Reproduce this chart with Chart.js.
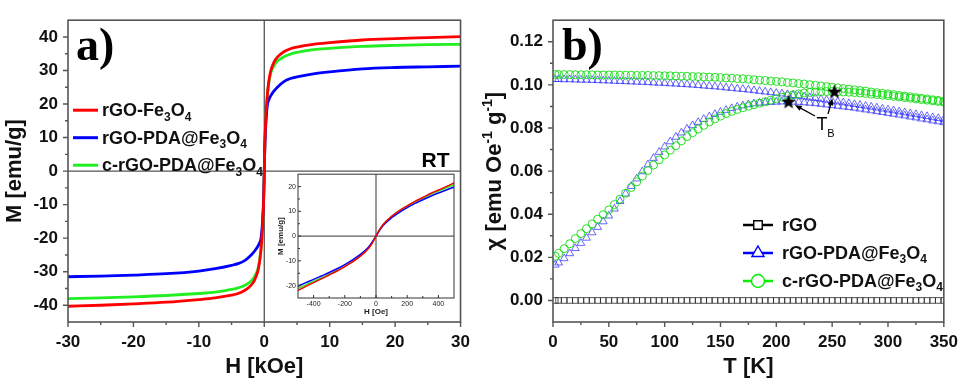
<!DOCTYPE html>
<html>
<head>
<meta charset="utf-8">
<script src="https://cdn.jsdelivr.net/npm/chart.js@4.4.1/dist/chart.umd.min.js"></script>
<style>
  html, body { margin: 0; padding: 0; background: #fff; }
  #page { position: relative; width: 968px; height: 385px; overflow: hidden; }
  .box { position: absolute; }
</style>
</head>
<body>
<div id="page">
  <div class="box" style="left:0;top:0;width:480px;height:385px"><canvas id="chartA"></canvas></div>
  <div class="box" style="left:480px;top:0;width:488px;height:385px"><canvas id="chartB"></canvas></div>
  <div class="box" style="left:268px;top:168px;width:190px;height:150px"><canvas id="chartInset"></canvas></div>
</div>
<script>
// ---------------- data : panel a) M(H) at room temperature ----------------
var sampleNames = ['rGO-Fe3O4', 'rGO-PDA@Fe3O4', 'c-rGO-PDA@Fe3O4'];

var fieldKOe = [-30, -25, -20, -15, -10, -7.5, -5, -4, -3, -2, -1.5, -1, -0.75, -0.5, -0.25, -0.1,
  0, 0.1, 0.25, 0.5, 0.75, 1, 1.5, 2, 3, 4, 5, 7.5, 10, 15, 20, 25, 30];
var magRed = [-40.3, -40.0, -39.6, -39.1, -38.3, -37.8, -37.0, -36.5, -35.6, -34.0, -32.6, -30.0, -27.5, -23.5, -16.0, -9.0,
  0, 9.0, 16.0, 23.5, 27.5, 30.0, 32.6, 34.0, 35.6, 36.5, 37.0, 37.8, 38.3, 39.1, 39.5, 39.8, 40.1];
var magBlue = [-31.5, -31.3, -31.0, -30.6, -29.8, -29.1, -28.1, -27.6, -26.7, -25.0, -23.9, -22.5, -21.5, -20.0, -14.5, -8.0,
  0, 8.0, 14.5, 20.0, 21.5, 22.5, 23.9, 25.0, 26.7, 27.6, 28.1, 29.0, 29.6, 30.5, 30.9, 31.1, 31.3];
var magGreen = [-38.0, -37.8, -37.5, -37.1, -36.5, -36.1, -35.3, -34.8, -34.1, -32.8, -31.5, -29.3, -27.0, -23.0, -15.8, -9.0,
  0, 9.0, 15.8, 23.0, 27.0, 29.3, 31.5, 32.8, 34.1, 34.9, 35.4, 36.2, 36.6, 37.2, 37.5, 37.7, 37.8];

var aTicksX = [-30, -20, -10, 0, 10, 20, 30];
var aMinorX = [-25, -15, -5, 5, 15, 25];
var aTicksY = [-40, -30, -20, -10, 0, 10, 20, 30, 40];
var aMinorY = [-35, -25, -15, -5, 5, 15, 25, 35];

// inset : low field part, H in Oe
var fieldOe = [-500, -450, -400, -350, -300, -250, -200, -150, -100, -50, -25, 0, 25, 50, 100, 150, 200, 250, 300, 350, 400, 450, 500];
var lowRed = [-22.0, -20.3, -18.8, -17.3, -15.7, -14.1, -12.3, -10.4, -8.1, -5.1, -2.9, 0, 2.8, 5.0, 8.0, 10.3, 12.2, 14.0, 15.6, 17.2, 18.6, 20.0, 21.5];
var lowBlue = [-20.2, -18.8, -17.5, -16.1, -14.7, -13.2, -11.5, -9.6, -7.4, -4.6, -2.5, 0, 2.5, 4.6, 7.4, 9.6, 11.5, 13.2, 14.7, 16.1, 17.4, 18.6, 19.8];
var lowGreen = [-21.2, -19.7, -18.3, -16.9, -15.4, -13.9, -12.2, -10.3, -8.0, -5.0, -2.8, 0, 2.8, 5.0, 8.0, 10.3, 12.2, 13.9, 15.4, 16.9, 18.2, 19.5, 20.8];
var inTicksX = [-400, -200, 0, 200, 400];
var inMinorX = [-300, -100, 100, 300];
var inTicksY = [-20, -10, 0, 10, 20];
var inMinorY = [-15, -5, 5, 15];

// ---------------- data : panel b) chi(T), ZFC and FC branches ----------------
var chiNames = ['rGO', 'rGO-PDA@Fe3O4', 'c-rGO-PDA@Fe3O4'];
var tempK = [2, 5, 10, 15, 20, 25, 30, 35, 40, 45, 50, 55, 60, 65, 70, 75, 80, 85, 90, 95, 100, 105, 110, 115, 120, 125, 130, 135, 140, 145,
  150, 155, 160, 165, 170, 175, 180, 185, 190, 195, 200, 205, 210, 215, 220, 225, 230, 235, 240, 245, 250, 255, 260, 265, 270, 275, 280, 285, 290, 295,
  300, 305, 310, 315, 320, 325, 330, 335, 340, 345, 350];
var rgoChi = [0, 0, 0, 0, 0, 0, 0, 0, 0, 0, 0, 0, 0, 0, 0, 0, 0, 0, 0, 0, 0, 0, 0, 0, 0, 0, 0, 0, 0, 0,
  0, 0, 0, 0, 0, 0, 0, 0, 0, 0, 0, 0, 0, 0, 0, 0, 0, 0, 0, 0, 0, 0, 0, 0, 0, 0, 0, 0, 0, 0,
  0, 0, 0, 0, 0, 0, 0, 0, 0, 0, 0];
var blueZfc = [.0165, .0175, .0195, .0218, .0242, .0266, .0290, .0315, .0340, .0366, .0393, .0425, .0460, .0495, .0530, .0565, .0598, .0630, .0660, .0688,
  .0713, .0737, .0758, .0778, .0796, .0812, .0827, .0841, .0853, .0864, .0874, .0883, .0891, .0898, .0904, .0909, .0913, .0916, .0918, .0920,
  .0921, .0922, .0922, .0921, .0920, .0918, .0916, .0914, .0911, .0908, .0905, .0902, .0899, .0896, .0893, .0889, .0885, .0881, .0877, .0873,
  .0869, .0865, .0861, .0857, .0852, .0848, .0843, .0839, .0834, .0830, .0826];
var blueFc = [.1026, .1026, .1025, .1025, .1024, .1023, .1023, .1022, .1021, .1020, .1019, .1018, .1017, .1016, .1015, .1014, .1013, .1012, .1010, .1009,
  .1008, .1006, .1005, .1003, .1002, .1000, .0998, .0996, .0994, .0992, .0990, .0987, .0985, .0982, .0980, .0977, .0974, .0971, .0968, .0965,
  .0962, .0959, .0956, .0952, .0949, .0945, .0941, .0938, .0934, .0930, .0926, .0922, .0918, .0914, .0910, .0906, .0902, .0898, .0894, .0889,
  .0885, .0881, .0876, .0872, .0867, .0863, .0858, .0854, .0849, .0845, .0840];
var greenZfc = [.0205, .0218, .0240, .0263, .0287, .0310, .0333, .0355, .0377, .0398, .0420, .0445, .0470, .0497, .0524, .0550, .0577, .0603, .0628, .0652,
  .0675, .0697, .0718, .0740, .0760, .0778, .0795, .0812, .0828, .0842, .0855, .0867, .0877, .0886, .0894, .0901, .0908, .0915, .0922, .0929,
  .0936, .0943, .0949, .0954, .0958, .0962, .0965, .0967, .0968, .0969, .0969, .0968, .0967, .0966, .0964, .0962, .0960, .0957, .0955, .0952,
  .0950, .0947, .0944, .0941, .0938, .0935, .0932, .0929, .0926, .0923, .0920];
var greenFc = [.1048, .1048, .1048, .1048, .1047, .1047, .1047, .1047, .1046, .1046, .1046, .1046, .1045, .1045, .1045, .1044, .1044, .1044, .1043, .1043,
  .1042, .1042, .1041, .1040, .1040, .1039, .1038, .1037, .1036, .1035, .1034, .1032, .1031, .1029, .1028, .1026, .1024, .1022, .1020, .1018,
  .1016, .1014, .1011, .1009, .1006, .1004, .1001, .0998, .0995, .0992, .0989, .0986, .0983, .0980, .0977, .0974, .0971, .0967, .0964, .0961,
  .0958, .0955, .0951, .0948, .0945, .0941, .0938, .0935, .0931, .0928, .0924];
// blocking temperatures (stars)
var tbTemp = [211, 252];
var tbChi = [0.0922, 0.0969];

var bTicksX = [0, 50, 100, 150, 200, 250, 300, 350];
var bMinorX = [25, 75, 125, 175, 225, 275, 325];
var bTicksY = [0, 0.02, 0.04, 0.06, 0.08, 0.10, 0.12];
var bMinorY = [0.01, 0.03, 0.05, 0.07, 0.09, 0.11];

// ---------------- helpers ----------------
var FONT = "'Liberation Sans', Arial, sans-serif";
Chart.defaults.font.family = FONT;
Chart.defaults.color = '#111';

function toPoints(xs, ys) {
  return xs.map(function (x, i) { return { x: x, y: ys[i] }; });
}

// digits -> subscript, ^-1 -> superscript
function richParts(str) {
  var parts = [], re = /\^(-?\d+)|(\d+)/g, last = 0, m;
  while ((m = re.exec(str))) {
    if (m.index > last) parts.push({ t: str.slice(last, m.index), k: 0 });
    parts.push(m[1] ? { t: m[1], k: 1 } : { t: m[2], k: -1 });
    last = re.lastIndex;
  }
  if (last < str.length) parts.push({ t: str.slice(last), k: 0 });
  return parts;
}
function drawRich(ctx, str, x, y, size, align, weight) {
  var parts = richParts(str), w = 0;
  parts.forEach(function (p) {
    p.size = p.k ? Math.round(size * 0.64) : size;
    ctx.font = weight + ' ' + p.size + 'px ' + FONT;
    p.w = ctx.measureText(p.t).width;
    w += p.w;
  });
  var cx = align === 'center' ? x - w / 2 : (align === 'right' ? x - w : x);
  ctx.textAlign = 'left';
  ctx.textBaseline = 'alphabetic';
  parts.forEach(function (p) {
    ctx.font = weight + ' ' + p.size + 'px ' + FONT;
    var dy = p.k === -1 ? size * 0.24 : (p.k === 1 ? -size * 0.42 : 0);
    ctx.fillText(p.t, cx, y + dy);
    cx += p.w;
  });
}
function drawFrame(chart, color, width) {
  var a = chart.chartArea, ctx = chart.ctx;
  ctx.save();
  ctx.strokeStyle = color;
  ctx.lineWidth = width;
  ctx.strokeRect(a.left, a.top, a.right - a.left, a.bottom - a.top);
  ctx.restore();
}
function drawTickMarks(chart, id, values, len, inward) {
  var ctx = chart.ctx, s = chart.scales[id], a = chart.chartArea;
  ctx.beginPath();
  values.forEach(function (v) {
    var p = s.getPixelForValue(v);
    if (id === 'x') {
      ctx.moveTo(p, a.bottom);
      ctx.lineTo(p, inward ? a.bottom - len : a.bottom + len);
    } else {
      ctx.moveTo(a.left, p);
      ctx.lineTo(inward ? a.left + len : a.left - len, p);
    }
  });
  ctx.stroke();
}
function drawZeroLines(chart, color, width) {
  var ctx = chart.ctx, a = chart.chartArea;
  var x0 = chart.scales.x.getPixelForValue(0), y0 = chart.scales.y.getPixelForValue(0);
  ctx.save();
  ctx.strokeStyle = color;
  ctx.lineWidth = width;
  ctx.beginPath();
  ctx.moveTo(a.left, y0); ctx.lineTo(a.right, y0);
  ctx.moveTo(x0, a.top); ctx.lineTo(x0, a.bottom);
  ctx.stroke();
  ctx.restore();
}
function arrow(ctx, x1, y1, x2, y2) {
  var ang = Math.atan2(y2 - y1, x2 - x1);
  ctx.beginPath();
  ctx.moveTo(x1, y1);
  ctx.lineTo(x2 - 4 * Math.cos(ang), y2 - 4 * Math.sin(ang));
  ctx.stroke();
  ctx.beginPath();
  ctx.moveTo(x2, y2);
  ctx.lineTo(x2 - 7 * Math.cos(ang) + 2.8 * Math.sin(ang), y2 - 7 * Math.sin(ang) - 2.8 * Math.cos(ang));
  ctx.lineTo(x2 - 7 * Math.cos(ang) - 2.8 * Math.sin(ang), y2 - 7 * Math.sin(ang) + 2.8 * Math.cos(ang));
  ctx.closePath();
  ctx.fill();
}

// filled black star used as point style for T_B
var starImg = document.createElement('canvas');
starImg.width = 16; starImg.height = 16;
(function () {
  var c = starImg.getContext('2d');
  c.beginPath();
  for (var i = 0; i < 10; i++) {
    var r = i % 2 ? 3.2 : 7.6, ang = -Math.PI / 2 + i * Math.PI / 5;
    c.lineTo(8 + r * Math.cos(ang), 8.5 + r * Math.sin(ang));
  }
  c.closePath();
  c.fillStyle = '#000';
  c.fill();
})();

var tickFont = { size: 17, weight: 'bold' };
var titleFont = { size: 22, weight: 'bold' };

// ------------------ panel a) ------------------
var aColors = ['#ff0000', '#0000ff', '#22ee22'];
var aSeries = [magRed, magBlue, magGreen];

var panelAPlugin = {
  id: 'panelA',
  beforeDatasetsDraw: function (chart) {
    drawZeroLines(chart, '#555', 1.3);
  },
  afterDatasetsDraw: function (chart) {
    var ctx = chart.ctx, a = chart.chartArea;
    drawFrame(chart, '#555', 1.6);
    ctx.save();
    ctx.strokeStyle = '#555';
    ctx.lineWidth = 1.4;
    drawTickMarks(chart, 'x', aTicksX, 5, false);
    drawTickMarks(chart, 'y', aTicksY, 5, false);
    drawTickMarks(chart, 'x', aMinorX, 3, false);
    drawTickMarks(chart, 'y', aMinorY, 3, false);

    // legend inside the plot
    chart.data.datasets.forEach(function (ds, i) {
      var y = a.top + 90 + i * 27.5;
      ctx.strokeStyle = ds.borderColor;
      ctx.lineWidth = 3;
      ctx.beginPath();
      ctx.moveTo(a.left + 5, y);
      ctx.lineTo(a.left + 30, y);
      ctx.stroke();
      ctx.fillStyle = '#111';
      drawRich(ctx, ds.label, a.left + 34, y + 6, 18, 'left', 'bold');
    });

    ctx.fillStyle = '#000';
    ctx.font = "bold 46px 'Liberation Serif', 'Times New Roman', serif";
    ctx.textAlign = 'left';
    ctx.textBaseline = 'alphabetic';
    ctx.fillText('a)', a.left + 8, a.top + 40);

    ctx.font = 'bold 21px ' + FONT;
    ctx.textAlign = 'right';
    ctx.fillText('RT', a.right - 11, a.top + 147);
    ctx.restore();
  }
};

new Chart(document.getElementById('chartA'), {
  type: 'scatter',
  data: {
    datasets: sampleNames.map(function (name, i) {
      return {
        label: name,
        data: toPoints(fieldKOe, aSeries[i]),
        showLine: true,
        borderColor: aColors[i],
        backgroundColor: aColors[i],
        borderWidth: 2.8,
        pointRadius: 0,
        cubicInterpolationMode: 'monotone'
      };
    })
  },
  options: {
    responsive: true,
    maintainAspectRatio: false,
    animation: false,
    layout: { padding: { top: 5, right: 17, left: 0, bottom: 0 } },
    plugins: { legend: { display: false }, tooltip: { enabled: false } },
    scales: {
      x: {
        type: 'linear', min: -30, max: 30,
        afterBuildTicks: function (s) { s.ticks = aTicksX.map(function (v) { return { value: v }; }); },
        afterFit: function (s) { s.height = 63; },
        grid: { display: false, drawTicks: false },
        border: { display: false },
        ticks: { padding: 10, font: tickFont, color: '#111', maxRotation: 0, autoSkip: false },
        title: { display: true, text: 'H [kOe]', font: titleFont, color: '#111', padding: { top: 0, bottom: 5 } }
      },
      y: {
        type: 'linear', min: -45, max: 45,
        afterBuildTicks: function (s) { s.ticks = aTicksY.map(function (v) { return { value: v }; }); },
        afterFit: function (s) { s.width = 68; },
        grid: { display: false, drawTicks: false },
        border: { display: false },
        ticks: { padding: 10, font: tickFont, color: '#111', autoSkip: false,
          callback: function (v) { return String(v); } },
        title: { display: true, text: 'M [emu/g]', font: titleFont, color: '#111', padding: { top: 2, bottom: 0 } }
      }
    }
  },
  plugins: [panelAPlugin]
});

// ------------------ inset ------------------
var insetSeries = [lowRed, lowBlue, lowGreen];
var insetPlugin = {
  id: 'inset',
  beforeDatasetsDraw: function (chart) {
    drawZeroLines(chart, '#333', 1);
  },
  afterDatasetsDraw: function (chart) {
    var ctx = chart.ctx;
    drawFrame(chart, '#333', 1);
    ctx.save();
    ctx.strokeStyle = '#333';
    ctx.lineWidth = 1;
    drawTickMarks(chart, 'x', inTicksX, 3, true);
    drawTickMarks(chart, 'y', inTicksY, 3, true);
    drawTickMarks(chart, 'x', inMinorX, 2, true);
    drawTickMarks(chart, 'y', inMinorY, 2, true);
    ctx.restore();
  }
};

new Chart(document.getElementById('chartInset'), {
  type: 'scatter',
  data: {
    datasets: sampleNames.map(function (name, i) {
      return {
        label: name,
        data: toPoints(fieldOe, insetSeries[i]),
        showLine: true,
        borderColor: aColors[i],
        borderWidth: 1.5,
        pointRadius: 0,
        cubicInterpolationMode: 'monotone'
      };
    })
  },
  options: {
    responsive: true,
    maintainAspectRatio: false,
    animation: false,
    layout: { padding: { top: 5, right: 4, left: 0, bottom: 0 } },
    plugins: { legend: { display: false }, tooltip: { enabled: false } },
    scales: {
      x: {
        type: 'linear', min: -500, max: 500,
        afterBuildTicks: function (s) { s.ticks = inTicksX.map(function (v) { return { value: v }; }); },
        afterFit: function (s) { s.height = 20; },
        grid: { display: false, drawTicks: false },
        border: { display: false },
        ticks: { padding: 2, font: { size: 7 }, color: '#222', maxRotation: 0, autoSkip: false },
        title: { display: true, text: 'H [Oe]', font: { size: 8, weight: 'bold' }, color: '#222', padding: { top: 0, bottom: 1 } }
      },
      y: {
        type: 'linear', min: -25, max: 25,
        afterBuildTicks: function (s) { s.ticks = inTicksY.map(function (v) { return { value: v }; }); },
        afterFit: function (s) { s.width = 30; },
        grid: { display: false, drawTicks: false },
        border: { display: false },
        ticks: { padding: 2, font: { size: 7 }, color: '#222', autoSkip: false,
          callback: function (v) { return String(v); } },
        title: { display: true, text: 'M [emu/g]', font: { size: 8, weight: 'bold' }, color: '#222', padding: { top: 8, bottom: 0 } }
      }
    }
  },
  plugins: [insetPlugin]
});

// ------------------ panel b) ------------------
var bLegendStyle = [
  { color: '#000', style: 'rect', radius: 6 },
  { color: '#0000ff', style: 'triangle', radius: 7 },
  { color: '#00ee00', style: 'circle', radius: 6.5 }
];

var panelBPlugin = {
  id: 'panelB',
  afterDatasetsDraw: function (chart) {
    var ctx = chart.ctx, a = chart.chartArea;
    drawFrame(chart, '#555', 1.6);
    ctx.save();
    ctx.strokeStyle = '#555';
    ctx.lineWidth = 1.4;
    drawTickMarks(chart, 'x', bTicksX, 5, false);
    drawTickMarks(chart, 'y', bTicksY, 5, false);
    drawTickMarks(chart, 'x', bMinorX, 3, false);
    drawTickMarks(chart, 'y', bMinorY, 3, false);

    // legend
    chiNames.forEach(function (name, i) {
      var y = 225 + i * 28, st = bLegendStyle[i];
      ctx.strokeStyle = st.color;
      ctx.lineWidth = 2.5;
      ctx.beginPath();
      ctx.moveTo(a.left + 190, y);
      ctx.lineTo(a.left + 220, y);
      ctx.stroke();
      ctx.fillStyle = '#fff';
      ctx.lineWidth = 1.4;
      Chart.helpers.drawPoint(ctx, { pointStyle: st.style, radius: st.radius, borderWidth: 1.4, rotation: 0 }, a.left + 205, y);
      ctx.fillStyle = '#111';
      drawRich(ctx, name, a.left + 229, y + 6, 18, 'left', 'bold');
    });

    // T_B annotation with arrows to the stars
    var xs = chart.scales.x, ys = chart.scales.y;
    var lx = a.left + 269, ly = 123;
    ctx.fillStyle = '#000';
    ctx.font = '18px ' + FONT;
    ctx.textAlign = 'center';
    ctx.textBaseline = 'alphabetic';
    ctx.fillText('T', lx, ly + 7);
    ctx.font = '11px ' + FONT;
    ctx.fillText('B', lx + 9, ly + 14);
    ctx.strokeStyle = '#000';
    ctx.lineWidth = 1.3;
    var starts = [[lx - 7, ly - 7], [lx + 6, ly - 9]];
    tbTemp.forEach(function (t, i) {
      var sx = xs.getPixelForValue(t), sy = ys.getPixelForValue(tbChi[i]);
      var dx = sx - starts[i][0], dy = sy - starts[i][1], d = Math.sqrt(dx * dx + dy * dy);
      arrow(ctx, starts[i][0], starts[i][1], sx - dx / d * 7, sy - dy / d * 7);
    });

    ctx.font = "bold 46px 'Liberation Serif', 'Times New Roman', serif";
    ctx.textAlign = 'left';
    ctx.fillText('b)', a.left + 9, a.top + 40);

    // y title with superscripts
    ctx.fillStyle = '#111';
    ctx.translate(13, (a.top + a.bottom) / 2);
    ctx.rotate(-Math.PI / 2);
    drawRich(ctx, '\u03c7 [emu Oe^-1 g^-1]', 0, 8, 22, 'center', 'bold');
    ctx.restore();
  }
};

function openMarkers(label, temps, values, style, radius, color) {
  return {
    label: label,
    data: toPoints(temps, values),
    showLine: false,
    pointStyle: style,
    pointRadius: radius,
    pointBorderWidth: 1,
    pointBorderColor: color,
    pointBackgroundColor: 'rgba(0,0,0,0)',
    borderColor: color,
    backgroundColor: 'rgba(0,0,0,0)'
  };
}

new Chart(document.getElementById('chartB'), {
  type: 'scatter',
  data: {
    datasets: [
      {
        label: 'T_B',
        data: toPoints(tbTemp, tbChi),
        pointStyle: starImg,
        pointRadius: 8,
        showLine: false
      },
      openMarkers(chiNames[2], tempK, greenZfc, 'circle', 4, 'rgba(20,220,20,0.9)'),
      openMarkers(chiNames[2], tempK, greenFc, 'circle', 4, 'rgba(20,220,20,0.9)'),
      openMarkers(chiNames[1], tempK, blueZfc, 'triangle', 4.5, 'rgba(40,40,255,0.7)'),
      openMarkers(chiNames[1], tempK, blueFc, 'triangle', 4.5, 'rgba(40,40,255,0.7)'),
      openMarkers(chiNames[0], tempK, rgoChi, 'rect', 4, 'rgba(40,40,40,0.8)')
    ]
  },
  options: {
    responsive: true,
    maintainAspectRatio: false,
    animation: false,
    layout: { padding: { top: 5, right: 19, left: 0, bottom: 0 } },
    plugins: { legend: { display: false }, tooltip: { enabled: false } },
    scales: {
      x: {
        type: 'linear', min: 0, max: 350,
        afterBuildTicks: function (s) { s.ticks = bTicksX.map(function (v) { return { value: v }; }); },
        afterFit: function (s) { s.height = 63; },
        grid: { display: false, drawTicks: false },
        border: { display: false },
        ticks: { padding: 10, font: tickFont, color: '#111', maxRotation: 0, autoSkip: false },
        title: { display: true, text: 'T [K]', font: titleFont, color: '#111', padding: { top: 0, bottom: 5 } }
      },
      y: {
        type: 'linear', min: -0.01, max: 0.13,
        afterBuildTicks: function (s) { s.ticks = bTicksY.map(function (v) { return { value: v }; }); },
        afterFit: function (s) { s.width = 73; },
        grid: { display: false, drawTicks: false },
        border: { display: false },
        ticks: { padding: 10, font: tickFont, color: '#111', autoSkip: false,
          callback: function (v) { return v.toFixed(2); } },
        title: { display: false }
      }
    }
  },
  plugins: [panelBPlugin]
});
</script>
</body>
</html>
